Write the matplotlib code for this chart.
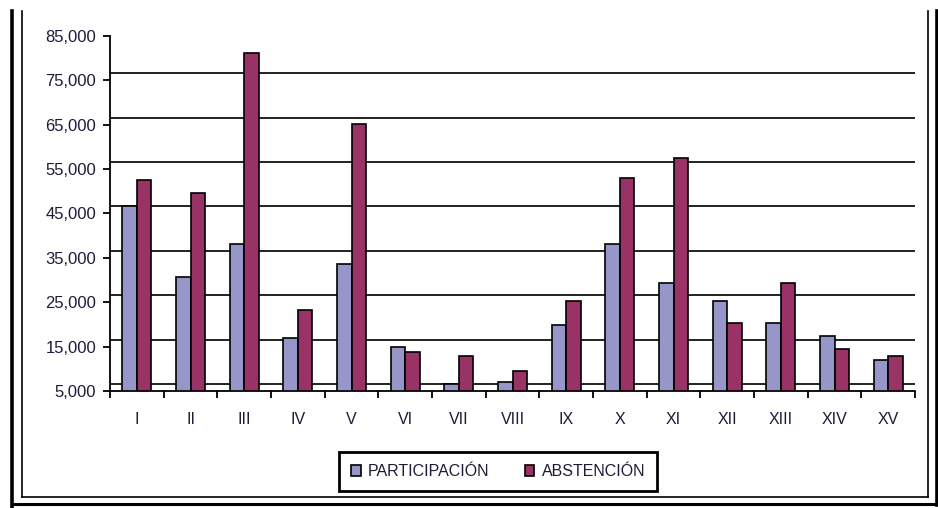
import numpy as np
import matplotlib
matplotlib.use('Agg')
import matplotlib.pyplot as plt
from matplotlib.lines import Line2D
from matplotlib.patches import Patch

plt.rcParams['font.family'] = ['Liberation Sans', 'DejaVu Sans']

categories = ['I', 'II', 'III', 'IV', 'V', 'VI', 'VII', 'VIII', 'IX', 'X',
              'XI', 'XII', 'XIII', 'XIV', 'XV']
participacion = [46800, 30700, 38100, 16900, 33700, 15000, 6600, 7100, 19900,
                 38100, 29300, 25300, 20300, 17400, 11900]
abstencion = [52500, 49600, 81100, 23300, 65100, 13900, 13000, 9500, 25300,
              53000, 57400, 20300, 29300, 14500, 13000]
y_ticks = [5000, 15000, 25000, 35000, 45000, 55000, 65000, 75000, 85000]
series_names = ['PARTICIPACIÓN', 'ABSTENCIÓN']

c_part = '#9696C8'
c_abst = '#993366'
txt = '#1c1c38'

fig = plt.figure(figsize=(9.38, 5.08), dpi=100)
ax = fig.add_axes([110 / 938, 1 - 391 / 508, 805 / 938, 355 / 508])

x = np.arange(len(categories))
w = 0.272
base = y_ticks[0]
ax.bar(x - w / 2, np.array(participacion) - base, w, bottom=base, color=c_part,
       edgecolor='black', linewidth=1.2, zorder=3)
ax.bar(x + w / 2, np.array(abstencion) - base, w, bottom=base, color=c_abst,
       edgecolor='black', linewidth=1.2, zorder=3)

# gridlines sit a little above the tick values (back wall of the chart)
for v in y_ticks[:-1]:
    ax.axhline(v + 1600, color='#111111', lw=1.3, zorder=1)

ax.set_xlim(-0.5, len(categories) - 0.5)
ax.set_ylim(y_ticks[0], y_ticks[-1])
ax.set_yticks(y_ticks)
ax.set_yticklabels([f'{v:,}' for v in y_ticks])
ax.set_xticks(x)
ax.set_xticklabels(categories)
ax.set_xticks(np.arange(-0.5, len(categories)), minor=True)

ax.tick_params(axis='y', direction='out', length=5, width=1.3, pad=5,
               labelsize=12, labelcolor=txt)
ax.tick_params(axis='x', which='major', length=0, pad=15, labelsize=11.5,
               labelcolor=txt)
ax.tick_params(axis='x', which='minor', direction='out', length=5, width=1.3)

for s in ['top', 'right']:
    ax.spines[s].set_visible(False)
for s in ['left', 'bottom']:
    ax.spines[s].set_linewidth(1.3)

handles = [Patch(facecolor=c_part, edgecolor='black', linewidth=1.2),
           Patch(facecolor=c_abst, edgecolor='black', linewidth=1.2)]
leg = fig.legend(handles, series_names, loc='center', ncol=2,
                 bbox_to_anchor=(498 / 938, 1 - 471.5 / 508),
                 bbox_transform=fig.transFigure, fancybox=False, shadow=False,
                 edgecolor='black', fontsize=11.5, handlelength=0.62,
                 handleheight=0.62, handletextpad=0.45, columnspacing=2.2,
                 borderpad=0.75, framealpha=1)
leg.get_frame().set_linewidth(2.0)
for t in leg.get_texts():
    t.set_color(txt)

# double frame around the chart
def fl(xs, ys, lw):
    fig.add_artist(Line2D([a / 938 for a in xs], [1 - b / 508 for b in ys],
                          color='black', lw=lw, transform=fig.transFigure))

fl([12, 12], [11, 508], 2.6)
fl([21.5, 21.5], [11, 497], 1.2)
fl([21.5, 928], [497, 497], 1.2)
fl([928, 928], [11, 497], 1.2)
fl([937, 937], [11, 505], 2.6)
fl([12, 937], [504, 504], 2.2)

fig.savefig('out.png', dpi=100)
